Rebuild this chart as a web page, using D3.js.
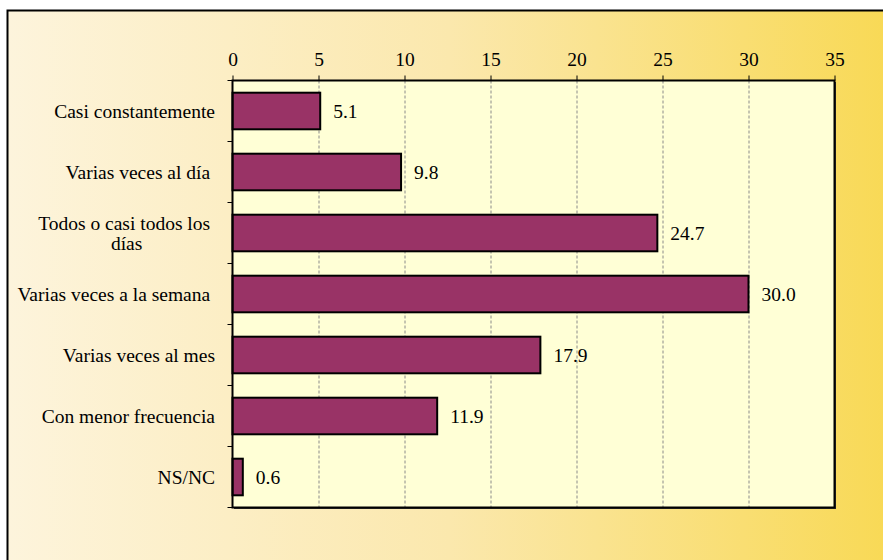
<!DOCTYPE html>
<html lang="es">
<head>
  <meta charset="UTF-8">
  <title>Frecuencia</title>
  <script src="https://d3js.org/d3.v7.min.js"></script>
  <style>
    html, body { margin: 0; padding: 0; background: #fff; }
    svg { display: block; }
    svg text { font-family: "Liberation Serif", "Times New Roman", serif; font-size: 19.5px; fill: #000; white-space: pre; }
  </style>
</head>
<body>
  <div id="chart"></div>
  <script>
    // Data
    var categories = [
      "Casi constantemente",
      "Varias veces al día ",
      "Todos o casi todos los |días",
      "Varias veces a la semana ",
      "Varias veces al mes",
      "Con menor frecuencia",
      "NS/NC"
    ];
    var values = [5.1, 9.8, 24.7, 30.0, 17.9, 11.9, 0.6];
    var xTicks = [0, 5, 10, 15, 20, 25, 30, 35];

    var width = 883, height = 560;
    var margin = {top: 80.5, right: 48.5, bottom: 52.5, left: 232.5};
    var innerW = width - margin.left - margin.right;
    var innerH = height - margin.top - margin.bottom;

    var svg = d3.select("#chart").append("svg")
      .attr("width", width)
      .attr("height", height);

    // background gradient
    var defs = svg.append("defs");
    var grad = defs.append("linearGradient").attr("id", "bg")
      .attr("x1", "0%").attr("x2", "100%").attr("y1", "0%").attr("y2", "0%");
    grad.append("stop").attr("offset", "0%").attr("stop-color", "#fdf4dc");
    grad.append("stop").attr("offset", "50%").attr("stop-color", "#fbe8ad");
    grad.append("stop").attr("offset", "100%").attr("stop-color", "#f8d955");

    svg.append("rect")
      .attr("x", 7.5).attr("y", 10.5)
      .attr("width", width).attr("height", height)
      .attr("fill", "url(#bg)")
      .attr("stroke", "#000").attr("stroke-width", 2);

    var x = d3.scaleLinear().domain([0, 35]).range([0, innerW]);
    var y = d3.scaleBand().domain(categories).range([0, innerH])
      .paddingInner(0.4).paddingOuter(0.2);

    var g = svg.append("g").attr("transform", `translate(${margin.left},${margin.top})`);

    // plot area shadow and fill
    g.append("rect")
      .attr("x", 1.5).attr("y", 1.5)
      .attr("width", innerW).attr("height", innerH)
      .attr("fill", "#333");
    g.append("rect")
      .attr("width", innerW).attr("height", innerH)
      .attr("fill", "#ffffd6");

    // grid
    g.selectAll(".grid").data(xTicks.slice(1, -1)).enter().append("line")
      .attr("x1", d => Math.round(x(d)) + 0.5).attr("x2", d => Math.round(x(d)) + 0.5)
      .attr("y1", 0).attr("y2", innerH)
      .attr("stroke", "#8a8a8a").attr("stroke-dasharray", "3,2");

    // bars
    g.selectAll(".bar").data(values).enter().append("rect")
      .attr("x", 0)
      .attr("y", (d, i) => y(categories[i]))
      .attr("width", d => x(d))
      .attr("height", y.bandwidth())
      .attr("fill", "#993366")
      .attr("stroke", "#000").attr("stroke-width", 2);

    // value labels
    g.selectAll(".val").data(values).enter().append("text")
      .attr("x", d => x(d) + 13)
      .attr("y", (d, i) => y(categories[i]) + y.bandwidth() / 2)
      .attr("dy", "0.35em")
      .text(d => d.toFixed(1));

    // top axis
    var xAxis = g.append("g")
      .call(d3.axisTop(x).tickValues(xTicks).tickSize(5).tickPadding(10).tickSizeOuter(0));
    xAxis.attr("font-family", null).attr("font-size", null);
    xAxis.select(".domain").remove();

    // left axis ticks at band boundaries
    var bounds = d3.range(categories.length + 1).map(i => i * innerH / categories.length);
    g.selectAll(".ytick").data(bounds).enter().append("line")
      .attr("x1", -5).attr("x2", 0)
      .attr("y1", d => d).attr("y2", d => d)
      .attr("stroke", "#000");

    // plot border
    g.append("rect")
      .attr("width", innerW).attr("height", innerH)
      .attr("fill", "none").attr("stroke", "#000").attr("stroke-width", 2);

    // category labels (trailing spaces kept, wrapped lines centred in block)
    categories.forEach(function(c, i) {
      var lines = c.split("|");
      var cy = y(c) + y.bandwidth() / 2;
      var t = g.append("text")
        .attr("text-anchor", "middle")
        .attr("xml:space", "preserve");
      var lh = 19.5;
      var x0 = -17.5;
      var tspans = lines.map(function(l, j) {
        return t.append("tspan")
          .attr("x", 0)
          .attr("y", cy + (j - (lines.length - 1) / 2) * lh)
          .attr("dy", "0.35em")
          .text(l);
      });
      var bw = d3.max(tspans, s => s.node().getComputedTextLength());
      t.attr("transform", `translate(${x0 - bw / 2},0)`);
    });
  </script>
</body>
</html>
